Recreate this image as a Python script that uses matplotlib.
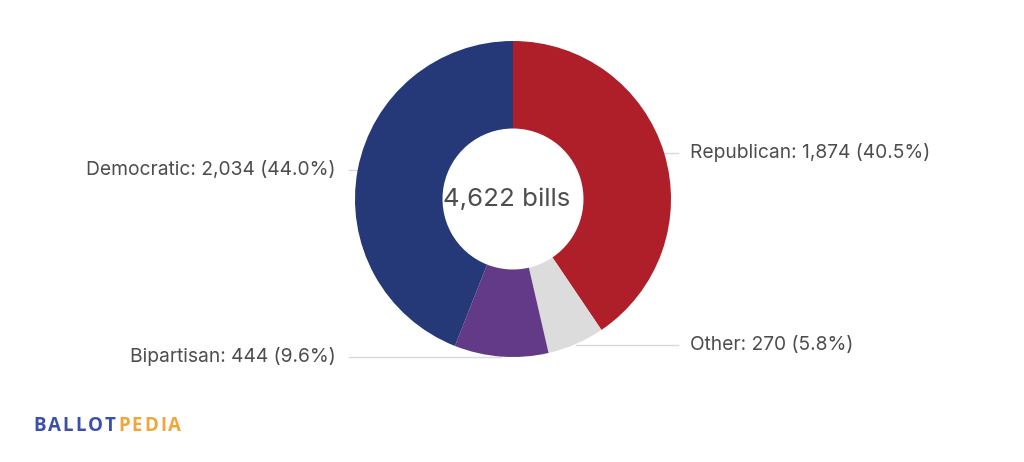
import matplotlib.pyplot as plt
import numpy as np

parties = ['Republican', 'Other', 'Bipartisan', 'Democratic']
bills = [1874, 270, 444, 2034]
colors = ['#ae1f29', '#dcdcdc', '#633a87', '#253877']

# label rows (pixels from top) and which side they sit on
label_y = [153, 345, 357, 170]
label_side = ['right', 'right', 'left', 'left']

cx, cy = 513, 199      # donut centre in pixels
r_out, r_in = 158, 70.5

total = sum(bills)

fig = plt.figure(figsize=(10.24, 4.62), dpi=100)
ax = fig.add_axes([0, 0, 1, 1])

wedges, _ = ax.pie(bills, colors=colors, startangle=-90, counterclock=True,
                   radius=r_out, center=(cx, cy), frame=False,
                   wedgeprops=dict(width=r_out - r_in, linewidth=0))

ax.set_xlim(0, 1024)
ax.set_ylim(462, 0)
ax.axis('off')

txt_color = '#4d4d4d'
for w, name, n, ly, side in zip(wedges, parties, bills, label_y, label_side):
    mid = np.deg2rad((w.theta1 + w.theta2) / 2)
    ax_x = cx + r_out * np.cos(mid)
    label = f'{name}: {n:,} ({n / total * 100:.1f}%)'
    if side == 'right':
        ax.plot([ax_x, 678], [ly, ly], color='#d9d9d9', lw=1, zorder=0)
        ax.text(690, ly, label, ha='left', va='center', fontsize=13.85,
                family='Inter', color=txt_color)
    else:
        ax.plot([349, ax_x], [ly, ly], color='#d9d9d9', lw=1, zorder=0)
        ax.text(336, ly, label, ha='right', va='center', fontsize=13.85,
                family='Inter', color=txt_color)

ax.text(cx - 6, cy, f'{total:,} bills', ha='center', va='center', fontsize=18.6,
        family='Inter', color=txt_color)

# logo
fig.canvas.draw()
rend = fig.canvas.get_renderer()
x = 33
for i, ch in enumerate('BALLOTPEDIA'):
    col = '#3b50ab' if i < 6 else '#f2a63a'
    t = ax.text(x, 426, ch, ha='left', va='center', fontsize=13.5,
                family='Open Sans', weight='bold', color=col)
    bb = t.get_window_extent(renderer=rend)
    x += bb.width + 2.1

fig.savefig('out.png', dpi=100)
